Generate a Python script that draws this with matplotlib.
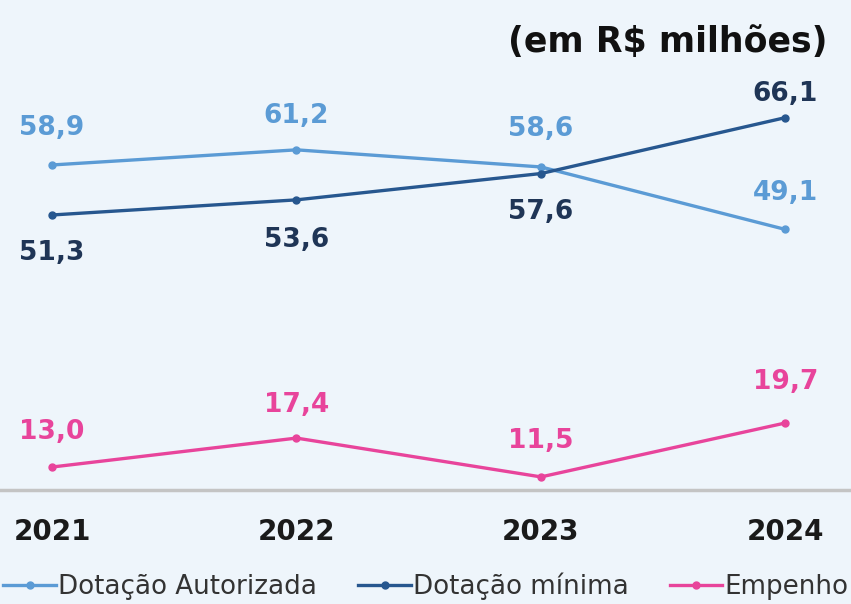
import matplotlib.pyplot as plt

anos = ["2021", "2022", "2023", "2024"]
dotacao_autorizada = [58.9, 61.2, 58.6, 49.1]
dotacao_minima = [51.3, 53.6, 57.6, 66.1]
empenho = [13.0, 17.4, 11.5, 19.7]

rotulos_aut = ["58,9", "61,2", "58,6", "49,1"]
rotulos_min = ["51,3", "53,6", "57,6", "66,1"]
rotulos_emp = ["13,0", "17,4", "11,5", "19,7"]

COR_AUT = "#5b9bd5"
COR_MIN = "#27578f"
COR_MIN_TXT = "#1f3556"
COR_EMP = "#e8449b"
FUNDO = "#eef5fb"

fig = plt.figure(figsize=(8.51, 6.04), dpi=100)
fig.patch.set_facecolor(FUNDO)
ax = fig.add_axes([0, 114 / 604, 1, 490 / 604])
ax.set_facecolor(FUNDO)

x = list(range(len(anos)))
ax.plot(x, dotacao_autorizada, "-o", color=COR_AUT, lw=2.4, ms=5, label="Dotação Autorizada", zorder=3)
ax.plot(x, dotacao_minima, "-o", color=COR_MIN, lw=2.4, ms=5, label="Dotação mínima", zorder=3)
ax.plot(x, empenho, "-o", color=COR_EMP, lw=2.4, ms=5, label="Empenho", zorder=3)

# deslocamentos dos rotulos (pixels)
off_aut = [37, 34, 38, 36]
off_min = [-38, -40, -38, 24]
off_emp = [35, 33, 36, 41]

kw = dict(textcoords="offset pixels", ha="center", va="center", fontsize=19, fontweight="bold")
for i in x:
    ax.annotate(rotulos_aut[i], (i, dotacao_autorizada[i]), xytext=(0, off_aut[i]), color=COR_AUT, **kw)
    ax.annotate(rotulos_min[i], (i, dotacao_minima[i]), xytext=(0, off_min[i]), color=COR_MIN_TXT, **kw)
    ax.annotate(rotulos_emp[i], (i, empenho[i]), xytext=(0, off_emp[i]), color=COR_EMP, **kw)

ax.set_xlim(-0.2127, 3.268)
ax.set_ylim(9.51, 83.97)
ax.set_xticks(x)
ax.set_xticklabels(anos, fontsize=20, fontweight="bold", color="#1a1a1a")
ax.tick_params(axis="x", length=0, pad=20)
ax.set_yticks([])
for s in ["top", "left", "right"]:
    ax.spines[s].set_visible(False)
ax.spines["bottom"].set_color("#c4c4c4")
ax.spines["bottom"].set_linewidth(2.5)

fig.text(828 / 851, 1 - 42 / 604, "(em R$ milhões)", ha="right", va="center",
         fontsize=25, fontweight="bold", color="#111111")

leg = fig.legend(loc="center", bbox_to_anchor=(426 / 851, 1 - 586 / 604), ncol=3,
                 frameon=False, fontsize=18.8, handlelength=2.0, handletextpad=0.08,
                 columnspacing=1.6, labelcolor="#333333")

fig.savefig("out.png", dpi=100, facecolor=FUNDO)
